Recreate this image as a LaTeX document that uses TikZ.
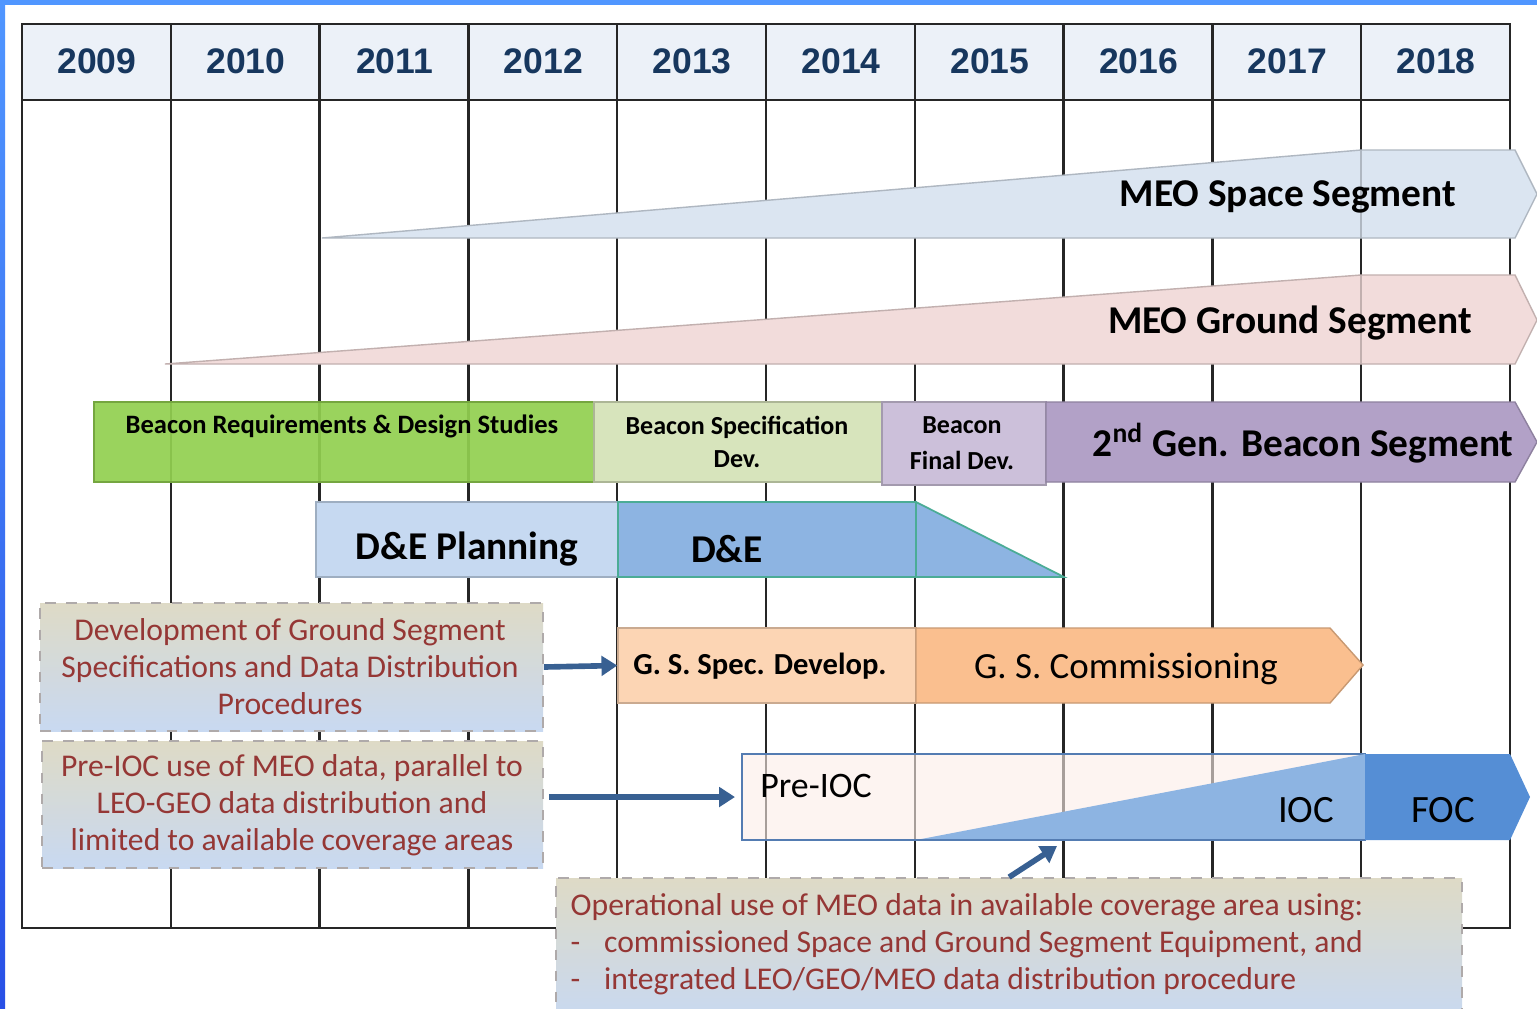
\documentclass[tikz,border=0pt]{standalone}
\usepackage{fontspec}
\setmainfont{Carlito}
\newfontfamily\yearfont{Liberation Sans}
\usepackage{xcolor}
\usepackage{tikz}
\usetikzlibrary{arrows.meta, positioning, fit, calc}
\definecolor{frameblue}{RGB}{80,150,255}
\definecolor{framedark}{RGB}{40,80,230}
\definecolor{headfill}{RGB}{236,241,248}
\definecolor{yeartext}{RGB}{23,55,94}
\definecolor{spacefill}{RGB}{219,229,241}
\definecolor{groundfill}{RGB}{242,220,219}
\definecolor{reqfill}{RGB}{146,208,80}
\definecolor{specfill}{RGB}{215,228,188}
\definecolor{finalfill}{RGB}{204,192,218}
\definecolor{genfill}{RGB}{178,161,199}
\definecolor{planfill}{RGB}{198,217,241}
\definecolor{defill}{RGB}{141,180,226}
\definecolor{deline}{RGB}{75,172,150}
\definecolor{gsspecfill}{RGB}{252,213,180}
\definecolor{gscomfill}{RGB}{250,191,143}
\definecolor{preiocfill}{RGB}{253,238,232}
\definecolor{preiocline}{RGB}{84,124,178}
\definecolor{focfill}{RGB}{85,142,213}
\definecolor{notetop}{RGB}{222,218,198}
\definecolor{notebot}{RGB}{200,217,241}
\definecolor{noteline}{RGB}{175,170,170}
\definecolor{notetext}{RGB}{149,55,53}
\definecolor{arrowblue}{RGB}{56,96,146}

\begin{document}
\begin{tikzpicture}[x=0.01cm, y=-0.01cm,
  font=\bfseries\fontsize{11.2}{13}\selectfont,
  year/.style={font=\yearfont\bfseries\fontsize{10.1}{12}\selectfont, text=yeartext},
  box/.style={draw=#1!80!black, line width=0.4pt, fill=#1, inner sep=0pt},
  shape line/.style={draw=#1!80!black, line width=0.4pt, fill=#1},
  note/.style={draw=noteline, dashed, line width=0.5pt, top color=notetop,
    bottom color=notebot, inner sep=0pt},
  notetxt/.style={text=notetext, align=center, inner sep=0pt,
    font=\mdseries\fontsize{9}{10.5}\selectfont},
  link/.style={draw=arrowblue, line width=1.6pt, -{Triangle[length=4.5pt, width=5.5pt]}}]
\useasboundingbox (0,0) rectangle (1537,1008);
\clip (0,0) rectangle (1537,1008);
\fill[white] (0,0) rectangle (1537,1008);
\fill[frameblue] (0,0) rectangle (1537,5);
\shade[top color=frameblue, bottom color=framedark] (0,0) rectangle (5,1008);

% year grid
\fill[headfill] (22,24) rectangle (1510,100);
\foreach \i in {1,...,9}
  \draw[line width=0.7pt, black!85] (22+148.8*\i,24) -- (22+148.8*\i,928);
\draw[line width=0.7pt, black!85] (22,24) rectangle (1510,928);
\draw[line width=0.7pt, black!85] (22,100) -- (1510,100);
\foreach \y [count=\i from 0] in {2009,...,2018}
  \node[year] (y\y) at (97+148.8*\i,61) {\y};

% MEO segments
\path[shape line=spacefill] (322,238) -- (1361,150) -- (1515,150) -- (1537,194) -- (1515,238) -- cycle;
\draw[spacefill!80!black, line width=0.4pt] (1361,150) -- (1361,238);
\node (space) at (1288,197) {MEO Space Segment};
\path[shape line=groundfill] (165,364) -- (1361,275) -- (1515,275) -- (1537,320) -- (1515,364) -- cycle;
\draw[groundfill!80!black, line width=0.4pt] (1361,275) -- (1361,364);
\node (ground) at (1290,323) {MEO Ground Segment};

% beacon row
\node[box=reqfill, fill opacity=0.92, fit={(94,402) (594,482)}] (req) {};
\node[font=\bfseries\fontsize{7.55}{9}\selectfont] (reqtxt) at (342,426) {Beacon Requirements \& Design Studies};
\node[box=specfill, fit={(594,402) (882,482)}] (spec) {};
\node[align=center, font=\bfseries\fontsize{7.4}{9.2}\selectfont] (spectxt) at (737,442) {Beacon Specification\\Dev.};
\node[box=finalfill, fit={(882,402) (1046,485)}] (final) {};
\node[align=center, font=\bfseries\fontsize{7.4}{10.2}\selectfont] (finaltxt) at (962,443) {Beacon\\Final Dev.};
\path[shape line=genfill] (1046,402) -- (1515,402) -- (1537,442) -- (1515,482) -- (1046,482) -- cycle;
\node (gen) at (1303,443) {2\textsuperscript{nd} Gen. Beacon Segment};

% D&E row
\node[box=planfill, fit={(316,502) (618,577)}] (plan) {};
\node (plantxt) at (467,549) {D\&E Planning};
\path[draw=deline, line width=0.5pt, fill=defill] (916,502) -- (1064,577) -- (916,577) -- cycle;
\node[draw=deline, line width=0.5pt, fill=defill, inner sep=0pt, fit={(618,502) (916,577)}] (de) {};
\node (detxt) at (727,549) {D\&E};

% ground segment row
\node[box=gsspecfill, fit={(618,628) (916,703)}] (gsspec) {};
\node[font=\bfseries\fontsize{8.7}{10}\selectfont] (gsspectxt) at (760,666) {G. S. Spec. Develop.};
\path[shape line=gscomfill] (916,628) -- (1330,628) -- (1363,665) -- (1330,703) -- (916,703) -- cycle;
\node[font=\mdseries\fontsize{10.5}{12}\selectfont] (gscom) at (1126,669) {G. S. Commissioning};

% operation phases
\node[draw=preiocline, line width=0.6pt, fill=preiocfill, fill opacity=0.6, inner sep=0pt,
  fit={(742,754) (1365,840)}] (preioc) {};
\path[fill=defill] (916,840) -- (1365,754) -- (1365,840) -- cycle;
\draw[preiocline, line width=0.6pt] (742,840) -- (1365,840);
\path[fill=focfill] (1365,754) -- (1510,754) -- (1530,797) -- (1510,840) -- (1365,840) -- cycle;
\node[font=\mdseries\fontsize{10.2}{12}\selectfont] (preioctxt) at (816,786) {Pre-IOC};
\node[font=\mdseries\fontsize{11}{12}\selectfont] (ioc) at (1306,810) {IOC};
\node[font=\mdseries\fontsize{11}{12}\selectfont] (foc) at (1443,810) {FOC};
\coordinate (iocfoot) at (1057,846);

% notes
\node[note, fit={(40,603) (543,731)}] (devnote) {};
\node[notetxt] (devtxt) at (290,667)
  {Development of Ground Segment\\Specifications and Data Distribution\\Procedures};
\node[note, fit={(42,741) (543,868)}] (prenote) {};
\node[notetxt] (pretxt) at (292,805)
  {Pre-IOC use of MEO data, parallel to\\LEO-GEO data distribution and\\limited to available coverage areas};
\node[note, fit={(556,878) (1462,1020)}] (opnote) {};
\node[notetxt, anchor=north west, align=left] (optxt) at (570,893)
  {Operational use of MEO data in available coverage area using:\\
   -\hspace{0.75em}commissioned Space and Ground Segment Equipment, and\\
   -\hspace{0.75em}integrated LEO/GEO/MEO data distribution procedure};

\draw[link] (devnote.east) -- (gsspec.west);
\draw[link] ($(prenote.east |- preioc.west)+(5,0)$) -- ($(preioc.west)+(-6,0)$);
\draw[link] ($(opnote.north west)+(454,0)$) -- (iocfoot);
\end{tikzpicture}
\end{document}
